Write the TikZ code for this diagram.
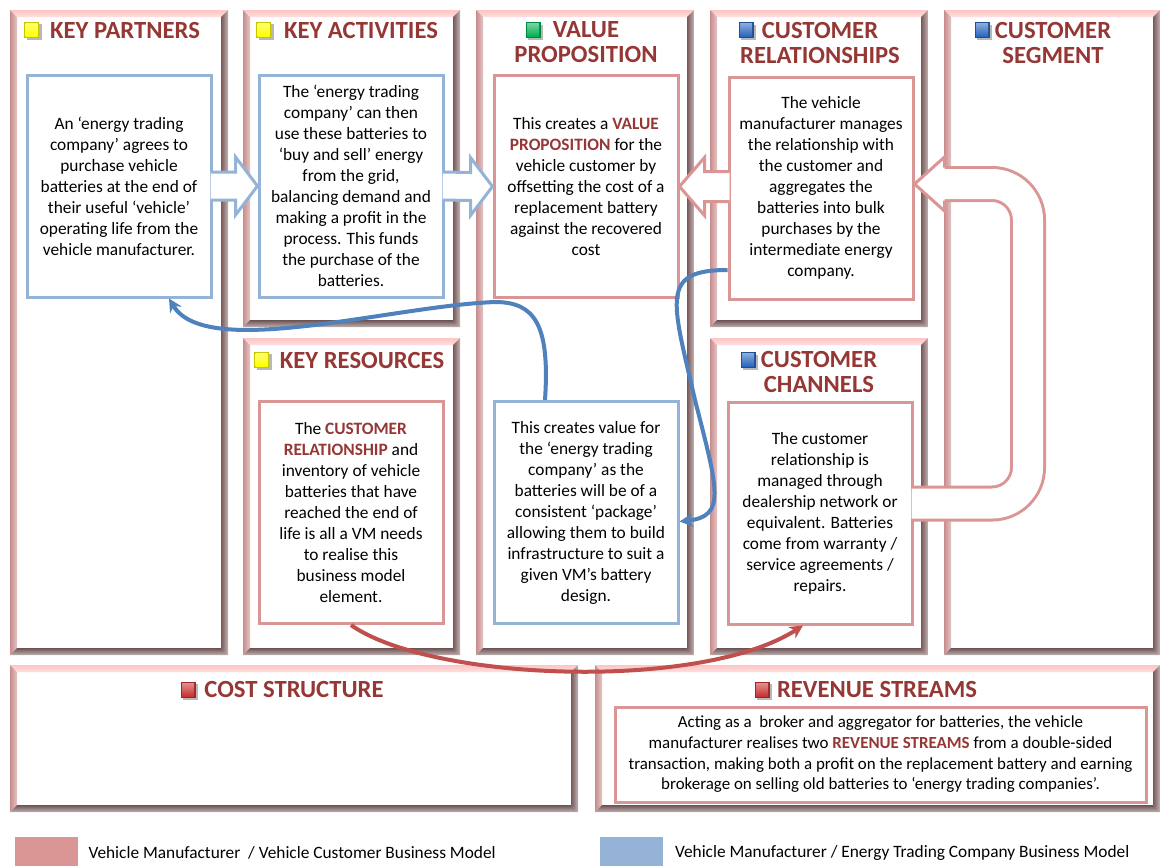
\documentclass[tikz,border=0pt]{standalone}
\usepackage{fontspec}
\setmainfont{Carlito}
\usetikzlibrary{arrows.meta, positioning, calc}

\definecolor{vmpink}{RGB}{217,150,148}
\definecolor{etblue}{RGB}{149,179,215}
\definecolor{curveblue}{RGB}{79,129,189}
\definecolor{curvered}{RGB}{192,80,77}
\definecolor{ttlred}{RGB}{149,55,53}
\definecolor{bevtop}{RGB}{255,196,196}
\definecolor{bevleft}{RGB}{200,140,140}
\definecolor{bevright}{RGB}{120,88,88}
\definecolor{bevbottom}{RGB}{108,82,82}
\definecolor{icony}{RGB}{255,255,0}
\definecolor{icong}{RGB}{0,176,80}
\definecolor{iconb}{RGB}{40,100,190}
\definecolor{iconr}{RGB}{200,50,50}

\newcommand{\vmhl}[1]{{\bfseries\color{ttlred}#1}}

\tikzset{
  bodytext/.style={font=\fontsize{13}{15.75}\selectfont, align=center, inner sep=0pt},
  vcbox/.style={bodytext, draw=vmpink, line width=2.25pt, fill=white,
    minimum width=138pt, minimum height=166.5pt},
  etbox/.style={vcbox, draw=etblue},
  ttl/.style={font=\bfseries\fontsize{18.5}{18.75}\selectfont, text=ttlred,
    align=center, inner sep=0pt},
  vcarrow/.style={draw=vmpink, line width=2.25pt, fill=white, line join=miter},
  etarrow/.style={vcarrow, draw=etblue},
  bluecurve/.style={draw=curveblue, line width=3pt, -{Stealth[length=10pt,width=10pt]}},
  redcurve/.style={bluecurve, draw=curvered},
  legsq/.style={minimum width=47.25pt, minimum height=21.75pt, inner sep=0pt},
  legtext/.style={font=\fontsize{13}{15.75}\selectfont, inner sep=0pt}
}

\begin{document}
\begin{tikzpicture}[x=0.75pt, y=-0.75pt]
  \useasboundingbox (0,0) rectangle (1160,865);
  % Canvas panels
  \foreach \xa/\ya/\xb/\yb in {10/10/228/655, 243/10/460/327, 476/10/694/655,
      710/10/928/327, 944/10/1160/655, 243/338/460/655, 710/338/928/655,
      10/665/578/812, 595/665/1160/812} {
    \fill[white] (\xa,\ya) rectangle (\xb,\yb);
    \shade[top color=bevtop, bottom color=bevtop!55!white]
      (\xa,\ya) -- (\xb,\ya) -- (\xb-7,\ya+7) -- (\xa+7,\ya+7) -- cycle;
    \shade[left color=bevleft, right color=bevleft!50!white]
      (\xa,\ya) -- (\xa+7,\ya+7) -- (\xa+7,\yb-7) -- (\xa,\yb) -- cycle;
    \shade[left color=bevright, right color=bevright!45!white]
      (\xb,\ya) -- (\xb,\yb) -- (\xb-7,\yb-7) -- (\xb-7,\ya+7) -- cycle;
    \shade[top color=bevbottom, bottom color=bevbottom!45!white]
      (\xa,\yb) -- (\xb,\yb) -- (\xb-7,\yb-7) -- (\xa+7,\yb-7) -- cycle;
  }

  % Titles
  \node[ttl] (kptitle) at (125,30) {KEY PARTNERS};
  \node[ttl] (katitle) at (361,30) {KEY ACTIVITIES};
  \node[ttl] (vptitle) at (586,42.5) {VALUE\\PROPOSITION};
  \node[ttl] (crtitle) at (820,42.5) {CUSTOMER\\RELATIONSHIPS};
  \node[ttl] (cstitle) at (1053,42.5) {CUSTOMER\\SEGMENT};
  \node[ttl] (krtitle) at (362,360) {KEY RESOURCES};
  \node[ttl] (cctitle) at (819,372) {CUSTOMER\\CHANNELS};
  \node[ttl] (costtitle) at (294,689) {COST STRUCTURE};
  \node[ttl] (revtitle) at (877,689) {REVENUE STREAMS};

  % Title icons
  \foreach \x/\y/\c in {31.5/29.5/icony, 263.5/29.5/icony, 533/30/icong,
      746/30/iconb, 982/30/iconb, 261.5/359.5/icony, 748/360/iconb,
      188/689.5/iconr, 762/689.5/iconr} {
    \fill[black!28] (\x-5,\y-5.5) rectangle (\x+10,\y+10);
    \fill[\c!78!black] (\x-7.5,\y-8) rectangle (\x+7.5,\y+8);
    \shade[top color=\c!55!white, bottom color=\c]
      (\x-6,\y-6.5) rectangle (\x+6,\y+6.5);
  }

  % Building blocks
  \node[etbox] (kpbox) at (119,186) {An ‘energy trading\\company’ agrees to\\purchase vehicle\\batteries at the end of\\their useful ‘vehicle’\\operating life from the\\vehicle manufacturer.};
  \node[etbox] (kabox) at (351,186) {The ‘energy trading\\company’ can then\\use these batteries to\\‘buy and sell’ energy\\from the grid,\\balancing demand and\\making a profit in the\\process. This funds\\the purchase of the\\batteries.};
  \node[vcbox] (vpbox) at (586,186.5) {This creates a \vmhl{VALUE}\\\vmhl{PROPOSITION} for the\\vehicle customer by\\offsetting the cost of a\\replacement battery\\against the recovered\\cost};
  \node[vcbox] (crbox) at (821,188) {The vehicle\\manufacturer manages\\the relationship with\\the customer and\\aggregates the\\batteries into bulk\\purchases by the\\intermediate energy\\company.};
  \node[vcbox] (krbox) at (351,512.5) {The \vmhl{CUSTOMER}\\\vmhl{RELATIONSHIP} and\\inventory of vehicle\\batteries that have\\reached the end of\\life is all a VM needs\\to realise this\\business model\\element.};
  \node[etbox] (vplow) at (586,512.5) {This creates value for\\the ‘energy trading\\company’ as the\\batteries will be of a\\consistent ‘package’\\allowing them to build\\infrastructure to suit a\\given VM’s battery\\design.};
  \node[vcbox] (ccbox) at (820,513) {The customer\\relationship is\\managed through\\dealership network or\\equivalent. Batteries\\come from warranty /\\service agreements /\\repairs.};
  \node[vcbox, minimum width=398.25pt, minimum height=71.25pt,
    font=\fontsize{12.7}{15.5}\selectfont] (rsbox) at (880.5,754.5)
    {Acting as a \ broker and aggregator for batteries, the vehicle\\manufacturer realises two \vmhl{REVENUE STREAMS} from a double-sided\\transaction, making both a profit on the replacement battery and earning\\brokerage on selling old batteries to ‘energy trading companies’.};

  % Block arrows
  \foreach \a/\b in {kpbox/kabox, kabox/vpbox}
    \filldraw[etarrow] ($(\a.east)+(-2,-14)$) -- ($(\b.west)+(-22,-14)$)
      -- ($(\b.west)+(-22,-29)$) -- (\b.west) -- ($(\b.west)+(-22,29)$)
      -- ($(\b.west)+(-22,14)$) -- ($(\a.east)+(-2,14)$);
  \filldraw[vcarrow] ($(crbox.west |- vpbox.east)+(2,-15)$) -- ($(vpbox.east)+(25,-15)$)
    -- ($(vpbox.east)+(25,-29)$) -- (vpbox.east) -- ($(vpbox.east)+(25,29)$)
    -- ($(vpbox.east)+(25,15)$) -- ($(crbox.west |- vpbox.east)+(2,15)$);
  \draw[vcarrow, fill=none, double=white, double distance=22.5pt, rounded corners=27pt]
    ($(ccbox.east)+(-2,-9.5)$) -| ($(crbox.east)+(113.5,-4)$) -- ($(crbox.east)+(27,-4)$);
  \filldraw[vcarrow] ($(crbox.east)+(30,-20.5)$) -- ($(crbox.east)+(30,-31)$)
    -- ($(crbox.east)+(0,-4)$) -- ($(crbox.east)+(30,23)$) -- ($(crbox.east)+(30,12.5)$);

  % Curved links
  \coordinate (bendw) at (495,302);
  \coordinate (bende) at (695,400);
  \draw[bluecurve] ($(vplow.north)+(-41,0)$) .. controls +(5,-75) and +(40,0) .. (bendw)
    .. controls +(-105,4) and +(37,62) .. ($(kpbox.south)+(50,0)$);
  \draw[bluecurve] ($(crbox.west)+(0,82)$) .. controls +(-68,0) and +(-23,-100) .. (bende)
    .. controls +(23,90) and +(47,-5) .. ($(vplow.east)+(0,9)$);
  \draw[redcurve] (krbox.south) .. controls +(79,56) and +(-103,66) .. ($(ccbox.south)+(-17,0)$);

  % Legend
  \node[legsq, fill=vmpink] (legvc) at (46.5,851) {};
  \node[legtext, right=7.5pt of legvc, yshift=-1.5pt] (legvctext) {Vehicle Manufacturer \ / Vehicle Customer Business Model};
  \node[legsq, fill=etblue] (leget) at (631,851) {};
  \node[legtext, right=9pt of leget, yshift=-1.5pt] (legettext) {Vehicle Manufacturer / Energy Trading Company Business Model};
\end{tikzpicture}
\end{document}
